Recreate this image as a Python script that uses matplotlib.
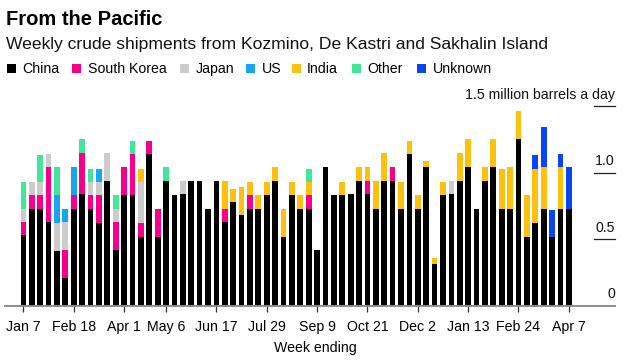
import matplotlib
matplotlib.use("Agg")
import matplotlib.pyplot as plt
from matplotlib.patches import Rectangle
from matplotlib.transforms import blended_transform_factory
import numpy as np

plt.rcParams['font.family'] = ['Liberation Sans', 'DejaVu Sans']

# weekly crude shipments, million barrels a day
china = [0.53, 0.73, 0.73, 0.63, 0.41, 0.21, 0.73, 0.84, 0.73, 0.62,
         0.94, 0.42, 0.83, 0.83, 0.52, 1.14, 0.52, 0.94, 0.83, 0.84,
         0.94, 0.94, 0.73, 0.94, 0.63, 0.78, 0.68, 0.73, 0.73, 0.83,
         0.94, 0.52, 0.83, 0.73, 0.73, 0.42, 1.04, 0.83, 0.83, 0.84,
         0.94, 0.84, 0.73, 0.94, 0.94, 0.73, 1.14, 0.73, 1.04, 0.31,
         0.83, 0.84, 0.94, 1.04, 0.73, 0.94, 1.04, 0.73, 0.73, 1.25,
         0.52, 0.62, 0.73, 0.52, 0.73, 0.73]
south_korea = [0.10, 0.10, 0.10, 0.41, 0, 0.21, 0.10, 0.31, 0.10, 0.21,
               0, 0.21, 0.21, 0.31, 0.10, 0.10, 0.21, 0, 0, 0,
               0, 0, 0, 0, 0.10, 0, 0, 0.10, 0, 0,
               0, 0, 0, 0, 0.10, 0, 0, 0, 0, 0,
               0, 0.10, 0, 0, 0.10, 0, 0, 0, 0, 0,
               0, 0, 0, 0, 0, 0, 0, 0, 0, 0,
               0, 0, 0, 0, 0, 0]
japan = [0.10, 0.10, 0.10, 0.10, 0.21, 0.21, 0, 0, 0.10, 0.10,
         0.21, 0.10, 0, 0, 0.31, 0, 0, 0, 0, 0.10,
         0, 0, 0, 0, 0, 0, 0, 0, 0, 0,
         0, 0, 0, 0, 0, 0, 0, 0, 0, 0,
         0, 0, 0, 0, 0, 0, 0, 0, 0, 0,
         0, 0.10, 0, 0, 0, 0, 0, 0, 0, 0,
         0, 0, 0, 0, 0, 0]
us = [0, 0, 0, 0, 0.21, 0.10, 0.21, 0, 0, 0.10,
      0, 0, 0, 0, 0, 0, 0, 0, 0, 0,
      0, 0, 0, 0, 0, 0, 0, 0, 0, 0,
      0, 0, 0, 0, 0, 0, 0, 0, 0, 0,
      0, 0, 0, 0, 0, 0, 0, 0, 0, 0,
      0, 0, 0, 0, 0, 0, 0, 0, 0, 0,
      0, 0, 0, 0, 0, 0]
india = [0, 0, 0, 0, 0, 0, 0, 0, 0, 0,
         0, 0, 0, 0, 0.10, 0, 0, 0, 0, 0,
         0, 0, 0, 0, 0.21, 0.10, 0.21, 0.10, 0.10, 0.10,
         0.10, 0.21, 0.10, 0.10, 0.10, 0, 0, 0, 0.10, 0,
         0.10, 0.10, 0.21, 0.21, 0, 0.20, 0.10, 0.10, 0.05, 0.05,
         0.10, 0, 0.21, 0.21, 0, 0.10, 0.21, 0.30, 0.31, 0.21,
         0.31, 0.41, 0.31, 0, 0.31, 0]
other = [0.20, 0, 0.20, 0, 0.21, 0, 0, 0.10, 0.10, 0,
         0, 0.10, 0, 0.10, 0, 0, 0, 0.10, 0, 0,
         0, 0, 0, 0, 0, 0, 0, 0, 0, 0,
         0, 0, 0, 0, 0.10, 0, 0, 0, 0, 0,
         0, 0, 0, 0, 0, 0, 0, 0, 0, 0,
         0, 0, 0, 0, 0, 0, 0, 0, 0, 0,
         0, 0, 0, 0, 0, 0]
unknown = [0] * 61 + [0.10, 0.30, 0.20, 0.10, 0.31]

series_names = ["China", "South Korea", "Japan", "US", "India", "Other", "Unknown"]
series_colors = ["#000000", "#f5008c", "#cccccc", "#14a7f0", "#fbc10e", "#41e699", "#0b44f2"]

tick_labels = ["Jan 7", "Feb 18", "Apr 1", "May 6", "Jun 17", "Jul 29", "Sep 9",
               "Oct 21", "Dec 2", "Jan 13", "Feb 24", "Apr 7"]
tick_weeks = [0, 6, 12, 17, 23, 29, 35, 41, 47, 53, 59, 65]

y_ticks = [0, 0.5, 1.0, 1.5]
y_labels = ["0", "0.5", "1.0", "1.5 million barrels a day"]

W, H = 630, 362


def px(x, y):
    return x / W, (H - y) / H


fig = plt.figure(figsize=(6.3, 3.62), dpi=100)
ax = fig.add_axes([5 / W, (H - 305.7) / H, 610 / W, 206.2 / H])

data = [china, south_korea, japan, us, india, other, unknown]
x = np.arange(len(china))
bottom = np.zeros(len(china))
for vals, col, name in zip(data, series_colors, series_names):
    vals = np.array(vals, dtype=float)
    ax.bar(x, vals, bottom=bottom, width=0.68, color=col, linewidth=0, label=name)
    bottom += vals

ax.set_xlim(-2.19, 70.5)
ax.set_ylim(0, 1.55)
for s in ["top", "right", "left"]:
    ax.spines[s].set_visible(False)
ax.spines["bottom"].set_color("#8c8c8c")
ax.spines["bottom"].set_linewidth(1.4)
ax.set_yticks([])
ax.set_xticks(tick_weeks)
ax.set_xticklabels(tick_labels, fontsize=10.2)
ax.tick_params(axis="x", length=4, width=0.9, color="#333333", pad=6.5)

trans = blended_transform_factory(ax.transAxes, ax.transData)
for yv, lab in zip(y_ticks, y_labels):
    if yv > 0:
        ax.plot([0.9655, 1.0], [yv, yv], transform=trans, color="#222222", lw=0.9, clip_on=False)
    ax.annotate(lab, xy=(1.0, yv), xycoords=trans, xytext=(0, 5.5), textcoords="offset points",
                ha="right", va="baseline", fontsize=10.2, color="#111111")

fig.text(*px(6, 25), "From the Pacific", fontsize=14.5, fontweight="bold", va="baseline")
fig.text(*px(6, 49.5), "Weekly crude shipments from Kozmino, De Kastri and Sakhalin Island",
         fontsize=12.6, va="baseline", color="#111111")

legend_x = [7, 72, 180, 246, 291.7, 352, 417]
for lx, name, col in zip(legend_x, series_names, series_colors):
    x0, y0 = px(lx, 73)
    fig.add_artist(Rectangle((x0, y0), 9 / W, 9 / H, transform=fig.transFigure,
                             facecolor=col, edgecolor="none"))
    fig.text(*px(lx + 15.5, 68.8), name, fontsize=10.2, va="center")

fig.text(*px(315, 348), "Week ending", fontsize=10.2, ha="center", va="center")

fig.savefig("out.png", dpi=100)
